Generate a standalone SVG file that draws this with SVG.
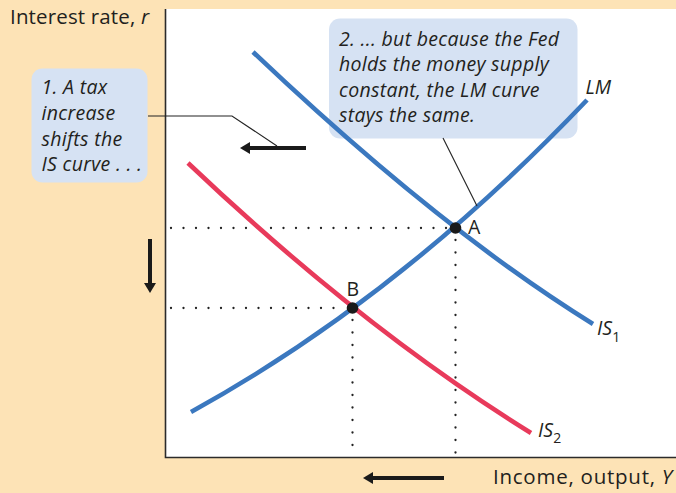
<svg xmlns="http://www.w3.org/2000/svg" width="676" height="493" viewBox="0 0 676 493">
<defs>
<style>
.bg{fill:#FDE3B6}
.plot{fill:#FFFFFF}
.axis{stroke:#2B2B2B;stroke-width:1.6;fill:none}
.blue{stroke:#3B78BF;stroke-width:4.6;fill:none}
.red{stroke:#E83A5B;stroke-width:4.6;fill:none}
.dots{stroke:#222;stroke-width:2.3;stroke-linecap:round;stroke-dasharray:0 12.5;fill:none}
.lead{stroke:#222;stroke-width:1.1;fill:none}
.arrow{stroke:#1A1A1A;stroke-width:4;fill:none}
.callout{fill:#D6E2F3}
.lbl{font-family:"Open Sans",Lato,"Liberation Sans",sans-serif;font-size:19.5px;fill:#231F20}
.ax{font-size:20.5px;letter-spacing:0.75px}
.ct{letter-spacing:0.3px}
.it{font-style:italic}
.sub{font-style:normal;font-size:14px;letter-spacing:0}
.pt{fill:#1A1A1A}
</style>
<marker id="ah" viewBox="0 0 10 12" refX="0" refY="6" markerWidth="10" markerHeight="12" markerUnits="userSpaceOnUse" orient="auto">
<path d="M0,0 L10,6 L0,12 Z" fill="#1A1A1A"/>
</marker>
</defs>
<rect class="bg" x="0" y="0" width="676" height="493"/>
<rect class="plot" x="165.5" y="9" width="511" height="448.5"/>
<g id="axes">
<path class="axis" d="M165.5,9 V457.5 H676"/>
<text class="lbl ax" x="10" y="24" style="letter-spacing:0.15px">Interest rate, <tspan class="it">r</tspan></text>
<text class="lbl ax" x="493" y="483.5">Income, output, <tspan class="it">Y</tspan></text>
</g>
<g id="callout1">
<rect class="callout" x="31.5" y="68.5" width="116" height="114" rx="11"/>
<text class="lbl it ct" x="41.5"><tspan x="41.5" y="94">1. A tax</tspan><tspan x="41.5" y="120">increase</tspan><tspan x="41.5" y="145.5">shifts the</tspan><tspan x="41.5" y="171">IS curve . . .</tspan></text>
</g>
<g id="callout2">
<rect class="callout" x="329" y="18.5" width="248.5" height="120" rx="11"/>
<text class="lbl it ct" x="339"><tspan x="339" y="46">2. ... but because the Fed</tspan><tspan x="339" y="71">holds the money supply</tspan><tspan x="339" y="96.5">constant, the LM curve</tspan><tspan x="339" y="121.5">stays the same.</tspan></text>
</g>
<g id="guides">
<path class="dots" d="M171,228 H449"/>
<path class="dots" d="M171,308 H346"/>
<path class="dots" d="M455.5,240 V453"/>
<path class="dots" d="M352.5,320 V453"/>
</g>
<g id="connectors">
<path class="blue" id="IS1-curve" d="M253,52 Q438.5,228.2 593,324"/>
<path class="red" id="IS2-curve" d="M188,163 Q361.8,328.1 531,433"/>
<path class="blue" id="LM-curve" d="M191,412 Q398.6,297.8 587,100"/>
<path class="lead" d="M148,116 H232 L277,146"/>
<path class="lead" d="M443,138 L477,206"/>
<path class="arrow" d="M306,148 H250" marker-end="url(#ah)"/>
<path class="arrow" d="M444,478 H373" marker-end="url(#ah)"/>
<path class="arrow" d="M150,239 V283" marker-end="url(#ah)"/>
</g>
<g id="IS1">
<text class="lbl it" x="597" y="335">IS<tspan class="sub" dy="6.5">1</tspan></text>
</g>
<g id="IS2">
<text class="lbl it" x="538" y="436.5">IS<tspan class="sub" dy="6.5">2</tspan></text>
</g>
<g id="LM">
<text class="lbl it" x="585.5" y="93.5">LM</text>
</g>
<g id="pointA">
<circle class="pt" cx="455.5" cy="228" r="5.8"/>
<text class="lbl" x="468" y="234">A</text>
</g>
<g id="pointB">
<circle class="pt" cx="352.5" cy="308" r="5.8"/>
<text class="lbl" x="346.5" y="295.5">B</text>
</g>
</svg>
